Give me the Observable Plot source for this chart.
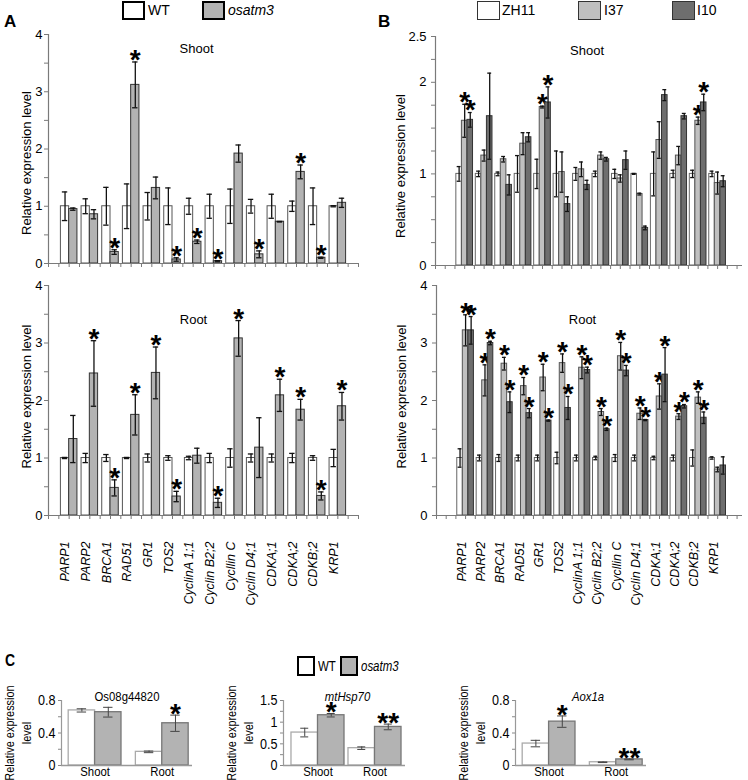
<!DOCTYPE html>
<html>
<head>
<meta charset="utf-8">
<script src="https://cdn.jsdelivr.net/npm/d3@7"></script>
<script src="https://cdn.jsdelivr.net/npm/@observablehq/plot@0.6"></script>
<style>
  body { margin: 0; background: #fff; }
  #fig { position: relative; width: 748px; height: 780px; overflow: hidden; font-family: "Liberation Sans", Arial, Helvetica, sans-serif; color: #000; }
  .panel-letter { position: absolute; font-weight: bold; font-size: 17px; line-height: 17px; }
  .box { position: absolute; box-sizing: border-box; }
  .lg { position: absolute; font-size: 14px; white-space: nowrap; }
  .narrow { transform: scaleX(0.82); transform-origin: left center; }
</style>
</head>
<body>
<div id="fig"></div>
<script>
// ---------------- DATA ----------------
const genes = ["PARP1","PARP2","BRCA1","RAD51","GR1","TOS2","CyclinA 1;1","Cyclin B2;2","Cycllin C","Cyclin D4;1","CDKA;1","CDKA;2","CDKB;2","KRP1"];

// Panel A – shoot (WT vs osatm3)
const aShootWT      = [1,1,1,1,1,1,1,1,1,1,1,1,1,1];
const aShootWTErr   = [0.25,0.13,0.33,0.39,0.24,0.32,0.14,0.21,0.30,0.12,0.21,0.09,0.32,0.01];
const aShootMut     = [0.95,0.86,0.20,3.12,1.32,0.07,0.38,0.04,1.92,0.16,0.73,1.60,0.10,1.06];
const aShootMutErr  = [0.02,0.08,0.04,0.40,0.19,0.03,0.03,0.01,0.15,0.06,0.005,0.12,0.01,0.08];
const aShootStar    = ["","","*","*","","*","*","*","","*","","*","*",""];

// Panel A – root
const aRootWT       = [1,1,1,1,1,1,1,1,1,1,1,1,1,1];
const aRootWTErr    = [0.01,0.08,0.06,0.01,0.07,0.04,0.03,0.08,0.16,0.07,0.07,0.08,0.04,0.15];
const aRootMut      = [1.33,2.47,0.48,1.75,2.48,0.33,1.04,0.22,3.08,1.18,2.09,1.84,0.34,1.90];
const aRootMutErr   = [0.41,0.57,0.14,0.35,0.45,0.09,0.13,0.08,0.31,0.52,0.28,0.18,0.07,0.24];
const aRootStar     = ["","*","*","*","*","*","","*","*","","*","*","*","*"];

// Panel B – shoot (ZH11, I37, I10)
const bShootZH      = [1,1,1,1,1,1,1,1,1,1,1,1,1,1];
const bShootZHErr   = [0.08,0.03,0.02,0.20,0.16,0.25,0.07,0.03,0.05,0.005,0.24,0.04,0.04,0.03];
const bShootI37     = [1.58,1.20,1.16,1.33,1.73,1.02,1.05,1.20,0.95,0.78,1.37,1.20,1.58,0.90];
const bShootI37Err  = [0.18,0.06,0.03,0.12,0.01,0.22,0.08,0.04,0.04,0.01,0.20,0.10,0.04,0.12];
const bShootI37Star = ["*","","","","*","","","","","","","","*",""];
const bShootI10     = [1.59,1.63,0.88,1.40,1.78,0.67,0.88,1.16,1.15,0.41,1.86,1.63,1.78,0.92];
const bShootI10Err  = [0.08,0.47,0.11,0.05,0.17,0.08,0.05,0.02,0.10,0.02,0.06,0.03,0.09,0.06];
const bShootI10Star = ["*","","","","*","","","","","","","","*",""];

// Panel B – root
const bRootZH       = [1,1,1,1,1,1,1,1,1,1,1,1,1,1];
const bRootZHErr    = [0.16,0.05,0.06,0.05,0.05,0.10,0.05,0.03,0.06,0.05,0.03,0.05,0.14,0.02];
const bRootI37      = [3.22,2.35,2.64,2.25,2.40,2.65,2.57,1.80,2.77,1.77,2.07,1.72,2.05,0.80];
const bRootI37Err   = [0.27,0.27,0.11,0.15,0.23,0.16,0.19,0.06,0.24,0.10,0.22,0.05,0.10,0.04];
const bRootI37Star  = ["*","*","*","*","*","*","*","*","*","*","*","*","*",""];
const bRootI10      = [3.22,3.00,1.97,1.78,1.65,1.87,2.53,1.50,2.52,1.66,2.45,1.90,1.70,0.87];
const bRootI10Err   = [0.24,0.03,0.18,0.08,0.01,0.20,0.05,0.02,0.09,0.01,0.47,0.03,0.10,0.15];
const bRootI10Star  = ["*","*","*","*","*","*","*","*","*","*","*","*","*",""];

// Panel C
const cGroups  = ["Shoot","Root"];
const c1Title = "Os08g44820";
const c1WT = [0.678,0.168], c1WTErr = [0.02,0.01];
const c1Mut = [0.656,0.52], c1MutErr = [0.06,0.10], c1Star = ["","*"];
const c2Title = "mtHsp70";
const c2WT = [0.76,0.40], c2WTErr = [0.10,0.03];
const c2Mut = [1.16,0.89], c2MutErr = [0.04,0.065], c2Star = ["*","**"];
const c3Title = "Aox1a";
const c3WT = [0.27,0.04], c3WTErr = [0.04,0.004];
const c3Mut = [0.54,0.075], c3MutErr = [0.07,0.005], c3Star = ["*","**"];

// y-axis tick labels
const aYLabels = [0,1,2,3,4];
const bShootYLabels = [0,1,2,2.5];
const bRootYLabels = [0,1,2,3,4];
const c1YLabels = [0,0.4,0.8];
const c2YLabels = [0,0.5,1,1.5];
const c3YLabels = [0,0.4,0.8];

// ---------------- STYLE ----------------
const FONT = "'Liberation Sans', Arial, Helvetica, sans-serif";
const AXC = "#7a7a7a";
const fmt = d => String(+(+d).toFixed(2));
const fig = document.getElementById("fig");

function place(el, left, top) {
  el.style.position = "absolute";
  el.style.left = left + "px";
  el.style.top = top + "px";
  fig.appendChild(el);
  return el;
}

// squeeze SVG text horizontally to imitate the narrow typeface of panel C (asterisks untouched)
function condense(svg, f) {
  svg.querySelectorAll("text").forEach(t => {
    if (/^\*+$/.test(t.textContent.trim())) return;
    const spans = t.querySelectorAll("tspan");
    const targets = spans.length ? Array.from(spans) : [t];
    targets.forEach(el => {
      const L = el.getComputedTextLength();
      if (L > 0) { el.setAttribute("textLength", (L * f).toFixed(2)); el.setAttribute("lengthAdjust", "spacingAndGlyphs"); }
    });
  });
}

function geneChart(cfg) {
  const marks = [];
  const {series, xDomain, yMax, yStep, yLabels, barHalf, cap} = cfg;
  for (const s of series) {
    const rows = s.v.map((v, i) => ({cx: i + 1 + s.off, v, e: s.e[i], star: s.star ? s.star[i] : ""}));
    marks.push(Plot.rect(rows, {x1: d => d.cx - barHalf, x2: d => d.cx + barHalf, y1: 0, y2: "v", fill: s.fill, stroke: s.stroke, strokeWidth: 1}));
    marks.push(Plot.ruleX(rows, {x: "cx", y1: d => Math.max(0, d.v - d.e), y2: d => d.v + d.e, stroke: "#111", strokeWidth: 1.3}));
    marks.push(Plot.ruleY(rows, {y: d => d.v + d.e, x1: d => d.cx - cap, x2: d => d.cx + cap, stroke: "#111", strokeWidth: 1.3}));
    marks.push(Plot.ruleY(rows, {y: d => Math.max(0, d.v - d.e), x1: d => d.cx - cap, x2: d => d.cx + cap, stroke: "#111", strokeWidth: 1.3}));
    marks.push(Plot.text(rows.filter(d => d.star), {x: "cx", y: d => d.v + d.e, text: "star", fontSize: 28, fontWeight: "bold", dy: -2, fill: "#000"}));
  }
  marks.push(Plot.ruleY([0], {stroke: AXC, strokeWidth: 1.2}));
  marks.push(Plot.ruleX([xDomain[0]], {stroke: AXC, strokeWidth: 1.2}));
  marks.push(Plot.axisY({ticks: d3.range(0, yMax + 1e-9, yStep), tickFormat: d => yLabels.some(t => Math.abs(t - d) < 1e-9) ? fmt(d) : "", tickSize: 4, tickPadding: cfg.tickPad ?? 2, stroke: AXC, fill: "#000", fontSize: 13, label: null}));
  marks.push(Plot.axisX({ticks: d3.range(xDomain[0], xDomain[1] + 1e-9, 0.5), tickSize: 4, tickFormat: () => "", stroke: AXC, label: null}));
  marks.push(Plot.text([cfg.title], {frameAnchor: "top", dx: cfg.titleDx, dy: cfg.titleDy, fontSize: 13, fill: "#000"}));
  marks.push(Plot.text(["Relative expression level"], {frameAnchor: "left", textAnchor: "middle", dx: cfg.yLabelDx, dy: cfg.yLabelDy, rotate: -90, fontSize: 13, fill: "#000"}));
  if (cfg.showGenes) {
    marks.push(Plot.text(genes, {x: (d, i) => i + 1, frameAnchor: "bottom", rotate: -90, textAnchor: "end", dy: 26, fontStyle: "italic", fontSize: 12.5, fill: "#000"}));
  }
  return Plot.plot({
    width: cfg.width, height: cfg.height,
    marginLeft: cfg.ml, marginRight: cfg.mr, marginTop: cfg.mt, marginBottom: cfg.mb,
    style: {fontFamily: FONT, background: "transparent", overflow: "visible"},
    x: {domain: xDomain},
    y: {domain: [0, yMax]},
    marks
  });
}

const WTFILL = "#ffffff", MUTFILL = "#b3b3b3";

place(geneChart({
  series: [
    {v: aShootWT, e: aShootWTErr, off: -0.2, fill: WTFILL, stroke: "#555"},
    {v: aShootMut, e: aShootMutErr, star: aShootStar, off: 0.2, fill: MUTFILL, stroke: "#333"}
  ],
  xDomain: [0, 15], yMax: 4, yStep: 0.5, yLabels: aYLabels, barHalf: 0.2, cap: 0.13,
  width: 374, height: 270, ml: 48, mr: 16, mt: 34, mb: 7,
  title: "Shoot", titleDx: -7, titleDy: 9, yLabelDx: -22, yLabelDy: 14
}), 0, 0);

place(geneChart({
  series: [
    {v: aRootWT, e: aRootWTErr, off: -0.2, fill: WTFILL, stroke: "#555"},
    {v: aRootMut, e: aRootMutErr, star: aRootStar, off: 0.2, fill: MUTFILL, stroke: "#333"}
  ],
  xDomain: [0, 15], yMax: 4, yStep: 0.5, yLabels: aYLabels, barHalf: 0.2, cap: 0.13,
  width: 374, height: 380, ml: 48, mr: 16, mt: 15, mb: 135,
  title: "Root", titleDx: -10, titleDy: 29, yLabelDx: -22, yLabelDy: -4, showGenes: true
}), 0, 270);

const BW = 0.143;
place(geneChart({
  series: [
    {v: bShootZH, e: bShootZHErr, off: -2 * BW, fill: "#ffffff", stroke: "#666"},
    {v: bShootI37, e: bShootI37Err, star: bShootI37Star, off: 0, fill: "#c0c0c0", stroke: "#555"},
    {v: bShootI10, e: bShootI10Err, star: bShootI10Star, off: 2 * BW, fill: "#6e6e6e", stroke: "#333"}
  ],
  xDomain: [-0.5, 15.28], yMax: 2.5, yStep: 0.25, yLabels: bShootYLabels, barHalf: BW, cap: 0.1, tickPad: 5,
  width: 374, height: 270, ml: 61, mr: 6, mt: 36, mb: 5,
  title: "Shoot", titleDx: -2, titleDy: 9, yLabelDx: -35, yLabelDy: 15
}), 374, 0);

place(geneChart({
  series: [
    {v: bRootZH, e: bRootZHErr, off: -2 * BW, fill: "#ffffff", stroke: "#666"},
    {v: bRootI37, e: bRootI37Err, star: bRootI37Star, off: 0, fill: "#c0c0c0", stroke: "#555"},
    {v: bRootI10, e: bRootI10Err, star: bRootI10Star, off: 2 * BW, fill: "#6e6e6e", stroke: "#333"}
  ],
  xDomain: [-0.5, 15.28], yMax: 4, yStep: 0.5, yLabels: bRootYLabels, barHalf: BW, cap: 0.1, tickPad: 5,
  width: 374, height: 380, ml: 62, mr: 6, mt: 15, mb: 135,
  title: "Root", titleDx: -7, titleDy: 29, yLabelDx: -35, yLabelDy: -4, showGenes: true
}), 374, 270);

// ---------------- Panel C ----------------
function cChart(cfg) {
  const {wt, wtE, mut, mutE, star, yMax, yStep, yLabels, xDomain, bw} = cfg;
  const rowsWT = wt.map((v, i) => ({cx: i + 1 - bw / 2, v, e: wtE[i]}));
  const rowsMut = mut.map((v, i) => ({cx: i + 1 + bw / 2, v, e: mutE[i], star: star[i]}));
  const marks = [];
  const cap = 0.07;
  for (const [rows, fill, stroke] of [[rowsWT, "#ffffff", "#aaaaaa"], [rowsMut, "#b3b3b3", "#777"]]) {
    marks.push(Plot.rect(rows, {x1: d => d.cx - bw / 2, x2: d => d.cx + bw / 2, y1: 0, y2: "v", fill, stroke, strokeWidth: 1.3}));
    marks.push(Plot.ruleX(rows, {x: "cx", y1: d => Math.max(0, d.v - d.e), y2: d => d.v + d.e, stroke: "#444", strokeWidth: 1}));
    marks.push(Plot.ruleY(rows, {y: d => d.v + d.e, x1: d => d.cx - cap, x2: d => d.cx + cap, stroke: "#444", strokeWidth: 1}));
    marks.push(Plot.ruleY(rows, {y: d => Math.max(0, d.v - d.e), x1: d => d.cx - cap, x2: d => d.cx + cap, stroke: "#444", strokeWidth: 1}));
  }
  marks.push(Plot.text(rowsMut.filter(d => d.star), {x: "cx", y: d => d.v + d.e, text: "star", fontSize: 28, fontWeight: "bold", dy: -1, fill: "#000"}));
  marks.push(Plot.ruleY([0], {stroke: "#999", strokeWidth: 1.5}));
  marks.push(Plot.ruleX([xDomain[0]], {stroke: "#999", strokeWidth: 1.2}));
  marks.push(Plot.axisY({ticks: d3.range(0, yMax + 1e-9, yStep), tickFormat: d => yLabels.some(t => Math.abs(t - d) < 1e-9) ? fmt(d) : "", tickSize: 3, tickPadding: 3, stroke: "#888", fill: "#000", fontSize: 15, label: null}));
  marks.push(Plot.text(cGroups, {x: (d, i) => i + 1, frameAnchor: "bottom", lineAnchor: "top", dy: 1, fontSize: 13.5, fill: "#000"}));
  marks.push(Plot.text([cfg.title], {frameAnchor: "top", dx: cfg.titleDx, dy: -9, fontSize: 13.5, fontStyle: cfg.italic ? "italic" : "normal", fill: "#000"}));
  marks.push(Plot.text(["Relative expression\nlevel"], {frameAnchor: "left", textAnchor: "middle", dx: cfg.yLabelDx, dy: 0, rotate: -90, fontSize: 13, lineHeight: 1.3, fill: "#000"}));
  return Plot.plot({
    width: cfg.width, height: 108,
    marginLeft: cfg.ml, marginRight: cfg.mr, marginTop: 28, marginBottom: 15,
    style: {fontFamily: FONT, background: "transparent", overflow: "visible"},
    x: {domain: xDomain, axis: null},
    y: {domain: [0, yMax]},
    marks
  });
}

const cTop = 672;
const cCharts = [
  place(cChart({wt: c1WT, wtE: c1WTErr, mut: c1Mut, mutE: c1MutErr, star: c1Star, yMax: 0.8, yStep: 0.2, yLabels: c1YLabels,
    xDomain: [0.5, 2.45], bw: 0.393, width: 200, ml: 61, mr: 8, title: c1Title, titleDx: 0, italic: false, yLabelDx: -44}), 0, cTop),
  place(cChart({wt: c2WT, wtE: c2WTErr, mut: c2Mut, mutE: c2MutErr, star: c2Star, yMax: 1.5, yStep: 0.25, yLabels: c2YLabels,
    xDomain: [0.395, 2.535], bw: 0.465, width: 200, ml: 61, mr: 17, title: c2Title, titleDx: 3, italic: true, yLabelDx: -44}), 222, cTop),
  place(cChart({wt: c3WT, wtE: c3WTErr, mut: c3Mut, mutE: c3MutErr, star: c3Star, yMax: 0.8, yStep: 0.2, yLabels: c3YLabels,
    xDomain: [0.5, 2.45], bw: 0.393, width: 200, ml: 61, mr: 8, title: c3Title, titleDx: 7, italic: true, yLabelDx: -44}), 454, cTop)
];
cCharts.forEach(el => { const svg = el.tagName.toLowerCase() === "svg" ? el : el.querySelector("svg"); condense(svg, 0.84); });

// ---------------- Letters & legends ----------------
function letter(t, x, y, narrow) {
  const d = document.createElement("div");
  d.className = "panel-letter" + (narrow ? " narrow" : "");
  d.textContent = t;
  place(d, x, y);
}
function legendItem(x, y, w, h, fill, border, label, italic, lx, narrow) {
  const b = document.createElement("div");
  b.className = "box";
  b.style.width = w + "px"; b.style.height = h + "px";
  b.style.background = fill; b.style.border = border;
  place(b, x, y);
  const t = document.createElement("div");
  t.className = "lg" + (narrow ? " narrow" : "");
  t.textContent = label;
  if (italic) t.style.fontStyle = "italic";
  t.style.lineHeight = h + "px";
  place(t, lx, y);
}
letter("A", 4, 13);
letter("B", 378, 13);
letter("C", 5, 652, true);

legendItem(122, 1, 23, 19, "#ffffff", "2px solid #000", "WT", false, 148);
legendItem(202, 1, 23, 19, "#b3b3b3", "2px solid #000", "osatm3", true, 228);

legendItem(477, 1, 23, 19, "#ffffff", "1.5px solid #333", "ZH11", false, 502);
legendItem(578, 1, 23, 19, "#c0c0c0", "1.5px solid #333", "I37", false, 604);
legendItem(672, 1, 23, 19, "#6e6e6e", "1.5px solid #333", "I10", false, 697);

legendItem(297, 656, 18, 20, "#ffffff", "2.5px solid #000", "WT", false, 318, true);
legendItem(340, 656, 18, 20, "#b3b3b3", "2.5px solid #000", "osatm3", true, 361, true);
</script>
</body>
</html>
